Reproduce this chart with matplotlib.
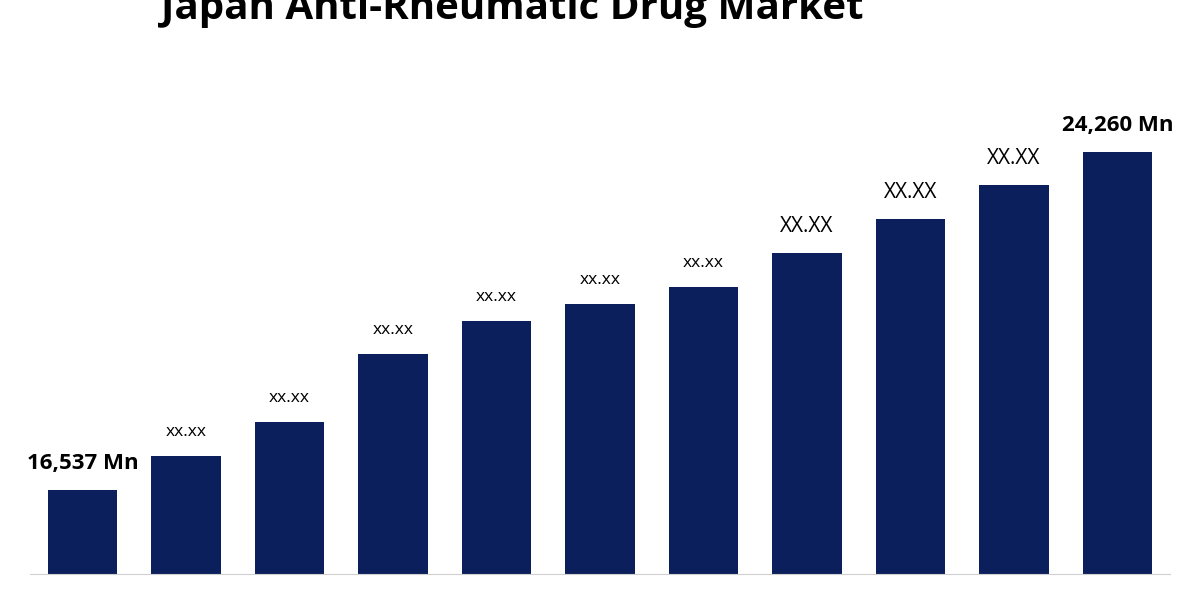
import matplotlib
matplotlib.use("Agg")
import matplotlib.pyplot as plt

NAVY = "#0b1f5c"

years = list(range(11))
values = [16537, 17314, 18091, 19645, 20399, 20788, 21176, 21953, 22730, 23507, 24260]
labels = ["16,537 Mn", "xx.xx", "xx.xx", "xx.xx", "xx.xx", "xx.xx", "xx.xx",
          "XX.XX", "XX.XX", "XX.XX", "24,260 Mn"]

fig = plt.figure(figsize=(12, 6), dpi=100)
ax = fig.add_axes([0.025, 0.043, 0.95, 0.79])
ax.bar(years, values, width=0.667, color=NAVY)
ax.set_xlim(-0.507, 10.507)
ax.set_ylim(14618, 25449)

for i, (v, lab) in enumerate(zip(values, labels)):
    if "Mn" in lab:
        ax.annotate(lab, (i, v), xytext=(0, 12), textcoords="offset points",
                    ha="center", va="bottom", fontsize=16, fontweight="bold",
                    family="Open Sans")
    else:
        fs = 15 if lab.isupper() else 12.5
        ax.annotate(lab, (i, v), xytext=(0, 12), textcoords="offset points",
                    ha="center", va="bottom", fontsize=fs, family="Open Sans")

for s in ["top", "right", "left"]:
    ax.spines[s].set_visible(False)
ax.spines["bottom"].set_color("#d0d0d0")
ax.set_xticks([])
ax.set_yticks([])

fig.text(0.427, 0.985, "Japan Anti-Rheumatic Drug Market", ha="center", va="center",
         fontsize=29, fontweight="bold", family="Open Sans")

fig.savefig("out.png", dpi=100)
